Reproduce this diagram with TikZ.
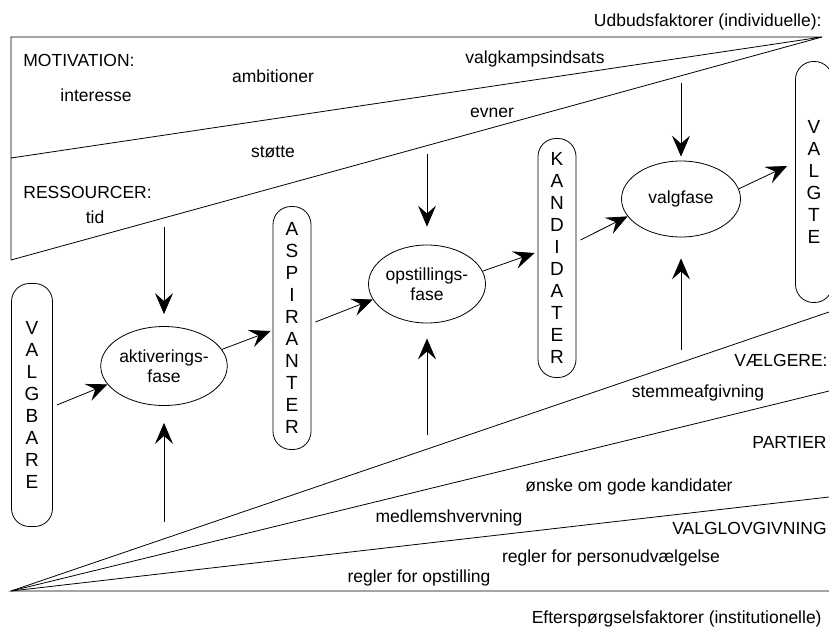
\documentclass[tikz,border=0pt]{standalone}
\usepackage{fontspec}
\setmainfont{Liberation Sans}
\usetikzlibrary{shapes.geometric,arrows.meta,calc}
\begin{document}
\begin{tikzpicture}[x=1pt,y=-1pt, line width=0.8pt,
  lbl/.style={font=\fontsize{17.5}{21}\selectfont, inner sep=0pt, anchor=base},
  stad/.style={draw, rectangle, rounded corners=18pt, minimum width=38pt, inner sep=0pt, align=center, font=\fontsize{19}{22}\selectfont},
  phase/.style={draw, ellipse, inner sep=0pt, align=center, font=\fontsize{17.5}{20}\selectfont},
  arr/.style={-{Stealth[length=21pt,width=18pt,inset=8pt]}},
]
\useasboundingbox (0,0) rectangle (829,630);

% frames
\coordinate (ta) at (822,37);
\coordinate (tl) at (11,37);
\coordinate (tm) at (11,158);
\coordinate (tb) at (11,260);
\draw (tb) -- (tl) -- (ta) -- (tm);
\draw (ta) -- (tb);
\coordinate (ba) at (11,591);
\coordinate (r1) at (829,312);
\coordinate (r2) at (829,391);
\coordinate (r3) at (829,497);
\coordinate (r4) at (829,591);
\draw (r1) -- (ba) -- (r4);
\draw (ba) -- (r2);
\draw (ba) -- (r3);

% nodes
\node[stad, minimum width=41pt, minimum height=243pt] (valgbare) at (32,405) {V\\A\\L\\G\\B\\A\\R\\E};
\node[phase, minimum width=118pt, minimum height=79pt] (akt) at (164,366) {aktiverings-\\fase};
\node[stad, minimum height=243pt] (aspir) at (292,328) {A\\S\\P\\I\\R\\A\\N\\T\\E\\R};
\node[phase, minimum width=117pt, minimum height=78pt] (opst) at (427,284) {opstillings-\\fase};
\node[stad, minimum height=239pt] (kand) at (557,258) {K\\A\\N\\D\\I\\D\\A\\T\\E\\R};
\node[phase, minimum width=119pt, minimum height=76pt] (valg) at (681,199) {valgfase};
\node[stad, minimum width=37pt, minimum height=241pt] (valgte) at (814,182) {V\\A\\L\\G\\T\\E};

% vertical arrows
\coordinate (s1) at (164,227);
\coordinate (u1) at (164,522);
\coordinate (s2) at (427,154);
\coordinate (u2) at (427,435);
\coordinate (s3) at (681,83);
\coordinate (u3) at (681,350);
\draw[arr, shorten >=12pt] (s1) -- (akt);
\draw[arr, shorten >=17pt] (u1) -- (akt);
\draw[arr, shorten >=18pt] (s2) -- (opst);
\draw[arr, shorten >=15pt] (u2) -- (opst);
\draw[arr, shorten >=4pt] (s3) -- (valg);
\draw[arr, shorten >=21pt] (u3) -- (valg);

% flow arrows
\draw[arr] ($(valgbare.east)+(4,0)$) -- (akt.198);
\draw[arr] (akt.16) -- ($(aspir.west)+(-2,3)$);
\draw[arr] ($(aspir.east)+(4,-6)$) -- (opst.196);
\draw[arr] (opst.13) -- ($(kand.west)+(-3,-5)$);
\draw[arr] ($(kand.east)+(4,-18)$) -- (valg.198);
\draw[arr] (valg.10) -- ($(valgte.west)+(-8,-16)$);

% labels
\node[lbl, anchor=base east] (udb) at (822,26) {Udbudsfaktorer (individuelle):};
\node[lbl, anchor=base west] (mot) at (23,66) {MOTIVATION:};
\node[lbl] (amb) at (273,82) {ambitioner};
\node[lbl] (int) at (96,101) {interesse};
\node[lbl] (val) at (535,63) {valgkampsindsats};
\node[lbl] (evn) at (492,117) {evner};
\node[lbl] (sto) at (273,157) {støtte};
\node[lbl, anchor=base west] (res) at (23,198) {RESSOURCER:};
\node[lbl] (tid) at (95,223) {tid};
\node[lbl, anchor=base east] (vae) at (828,366) {VÆLGERE:};
\node[lbl] (ste) at (698,397) {stemmeafgivning};
\node[lbl, anchor=base east] (par) at (827,448) {PARTIER};
\node[lbl] (ons) at (629,491) {ønske om gode kandidater};
\node[lbl] (med) at (449,522) {medlemshvervning};
\node[lbl, anchor=base east] (vlg) at (827,534) {VALGLOVGIVNING};
\node[lbl] (rpe) at (611,562) {regler for personudvælgelse};
\node[lbl] (rop) at (419,582) {regler for opstilling};
\node[lbl, anchor=base east] (eft) at (822,623) {Efterspørgselsfaktorer (institutionelle)};
\end{tikzpicture}
\end{document}
